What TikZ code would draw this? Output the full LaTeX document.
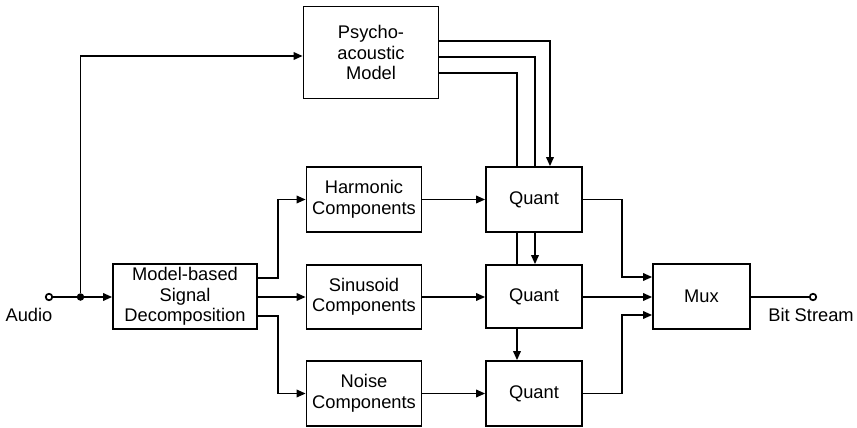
\documentclass[tikz,border=0pt]{standalone}
\usepackage{fontspec}
\setmainfont{Liberation Sans}
\usetikzlibrary{arrows.meta,calc}
\begin{document}
\begin{tikzpicture}[x=1pt,y=-1pt,
  every node/.style={font=\fontsize{18.3}{20.5}\selectfont},
  blk/.style={draw,line width=1.7pt,fill=white,rectangle,align=center,inner sep=0pt},
  wire/.style={line width=1.7pt},
  arr/.style={line width=1.7pt,-{Triangle[length=9pt,width=7.5pt]}},
  tap/.style={circle,draw,line width=1.7pt,fill=white,inner sep=0pt,minimum size=6.5pt},
  dot/.style={circle,fill=black,inner sep=0pt,minimum size=7.5pt}]
\useasboundingbox (0,0) rectangle (857,428);
\node[blk,minimum width=135pt,minimum height=92pt] (psy) at (371,52.5) {Psycho-\\acoustic\\Model};
\node[blk,minimum width=144pt,minimum height=65pt] (msd) at (185,296.5) {Model-based\\Signal\\Decomposition};
\node[blk,minimum width=115pt,minimum height=65pt] (har) at (364,199.5) {Harmonic\\Components};
\node[blk,minimum width=115pt,minimum height=64pt] (sin) at (364,297) {Sinusoid\\Components};
\node[blk,minimum width=115pt,minimum height=65pt] (noi) at (364,393.5) {Noise\\Components};
\node[blk,minimum width=96pt,minimum height=65pt] (q1) at (534,199.5) {Quant};
\node[blk,minimum width=96pt,minimum height=63pt] (q2) at (534,296.5) {Quant};
\node[blk,minimum width=96pt,minimum height=65pt] (q3) at (534,393.5) {Quant};
\node[blk,minimum width=97pt,minimum height=65pt] (mux) at (701.5,296.5) {Mux};
\node[tap] (ain) at (49,297) {};
\node[dot] (j) at (80.5,297) {};
\node[tap] (bout) at (813,297) {};
\node (alab) at (29,315) {Audio};
\node (blab) at (811,315) {Bit Stream};
% input
\draw[wire] (ain) -- (j);
\draw[arr] (j) -- (msd.west|-j);
\draw[arr] (j) |- (psy.west|-0,56);
% decomposition outputs
\draw[arr] (msd.east|-0,278) -- (278,278) |- (har.west);
\draw[arr] (msd.east|-0,297) -- (sin.west|-0,297);
\draw[arr] (msd.east|-0,316) -- (278,316) |- (noi.west);
% components to quant
\draw[arr] (har.east) -- (q1.west);
\draw[arr] (sin.east) -- (q2.west|-sin.east);
\draw[arr] (noi.east) -- (q3.west);
% psychoacoustic lines
\draw[arr] (psy.east|-0,41) -| (q1.north-|550,0);
\draw[wire] (psy.east|-0,57) -| (q1.north-|535,0);
\draw[arr] (q1.south-|535,0) -- (q2.north-|535,0);
\draw[wire] (psy.east|-0,73) -| (q1.north-|517,0);
\draw[wire] (q1.south-|517,0) -- (q2.north-|517,0);
\draw[arr] (q2.south-|517,0) -- (q3.north-|517,0);
% to mux
\draw[arr] (q1.east) -| (622,277) -- (mux.west|-0,277);
\draw[arr] (q2.east|-0,297) -- (mux.west|-0,297);
\draw[arr] (q3.east) -| (622,315) -- (mux.west|-0,315);
\draw[wire] (mux.east|-0,297) -- (bout);
\end{tikzpicture}
\end{document}
